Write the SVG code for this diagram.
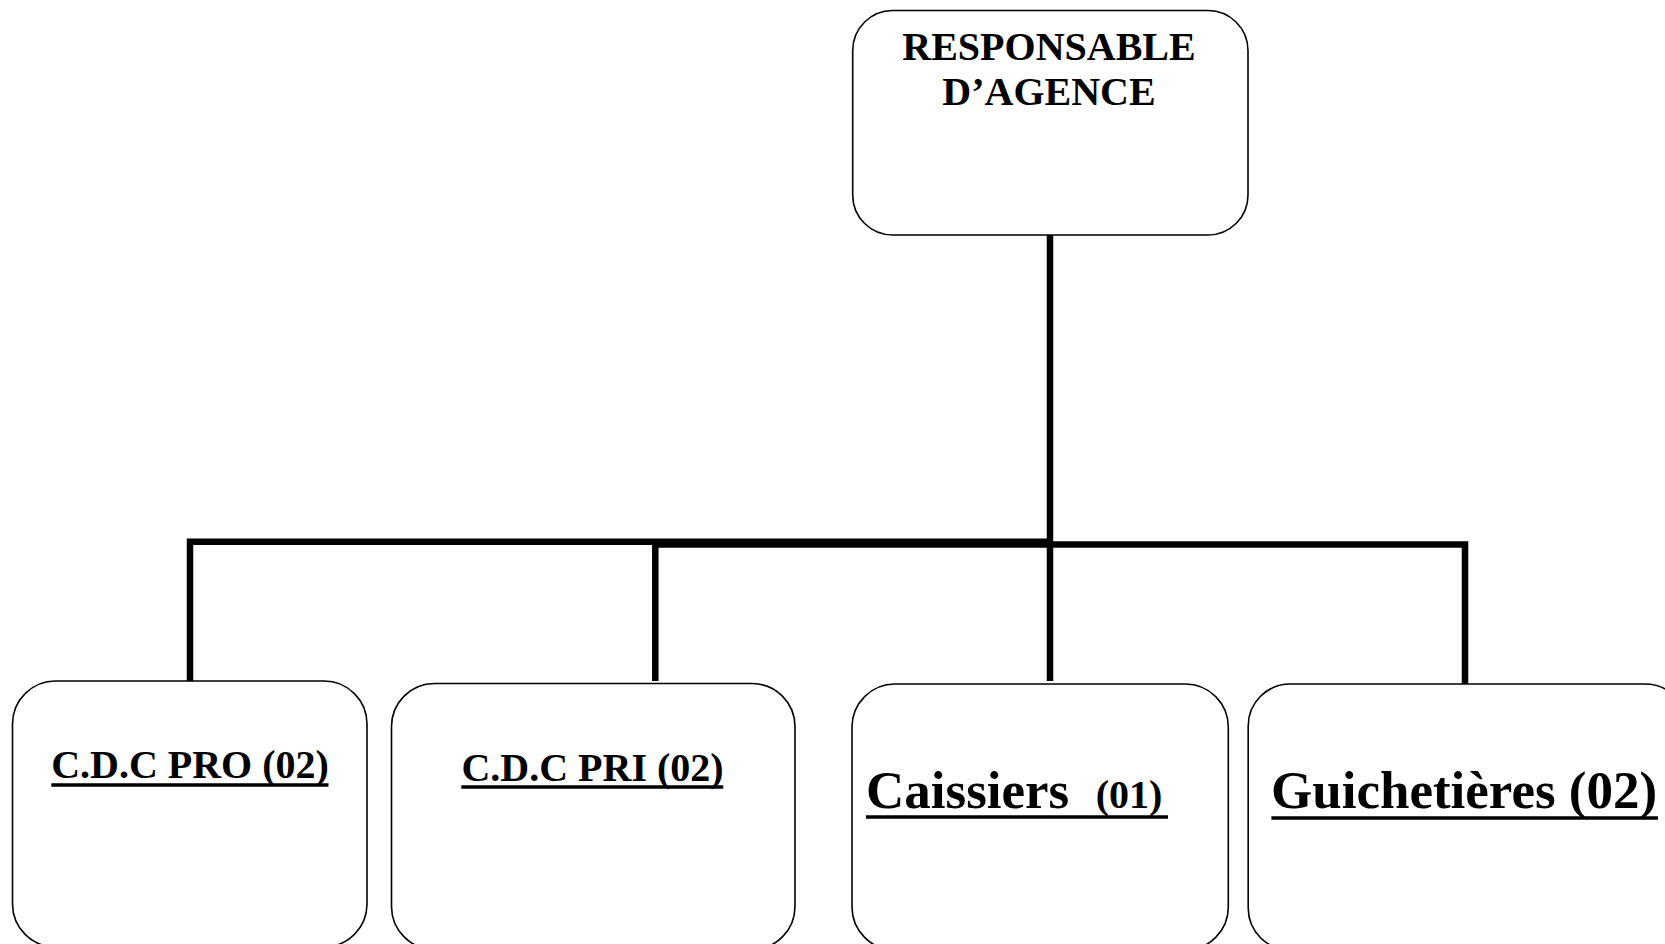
<svg xmlns="http://www.w3.org/2000/svg" width="1665" height="944" viewBox="0 0 1665 944">
<style>
.box{fill:#fff;stroke:#000;stroke-width:1.6}
.conn{fill:none;stroke:#000;stroke-width:6.5;stroke-linejoin:miter;stroke-linecap:butt}
.t{font-family:"Liberation Serif","Times New Roman",serif;font-weight:bold;fill:#000}
.ul{stroke:#000;stroke-width:3.6}
</style>
<rect width="1665" height="944" fill="#fff"/>
<g id="connectors">
<polyline class="conn" points="190,681 190,541.7 1050,541.7"/>
<polyline class="conn" points="655.3,681 655.3,544.6 1465,544.6 1465,684"/>
<line class="conn" x1="1050" y1="235" x2="1050" y2="681"/>
</g>
<g id="responsable">
<rect class="box" x="852.7" y="10.5" width="395.3" height="224.5" rx="40" ry="40"/>
<text class="t" x="1049" y="60" font-size="40" text-anchor="middle">RESPONSABLE</text>
<text class="t" x="1049" y="105" font-size="40" text-anchor="middle">D’AGENCE</text>
</g>
<g id="cdc-pro">
<rect class="box" x="12.5" y="681" width="354.5" height="266" rx="43" ry="43"/>
<text class="t" x="190" y="778" font-size="40" text-anchor="middle">C.D.C PRO (02)</text>
<line class="ul" x1="51.3" y1="785" x2="328.5" y2="785"/>
</g>
<g id="cdc-pri">
<rect class="box" x="391.5" y="683.5" width="403.5" height="266" rx="43" ry="43"/>
<text class="t" x="592.5" y="781" font-size="40" text-anchor="middle">C.D.C PRI (02)</text>
<line class="ul" x1="461.3" y1="787" x2="723.3" y2="787"/>
</g>
<g id="caissiers">
<rect class="box" x="852" y="684" width="376.3" height="266" rx="43" ry="43"/>
<text class="t" x="866" y="808" font-size="53" xml:space="preserve">Caissiers  <tspan font-size="40">(01)</tspan></text>
<line class="ul" x1="866" y1="817" x2="1168" y2="817" stroke-width="4.2"/>
</g>
<g id="guichetieres">
<rect class="box" x="1248.2" y="684" width="439" height="266" rx="42" ry="42"/>
<text class="t" x="1271" y="808" font-size="53">Guichetières (02)</text>
<line class="ul" x1="1271.4" y1="818" x2="1658" y2="818" stroke-width="4.2"/>
</g>
</svg>
